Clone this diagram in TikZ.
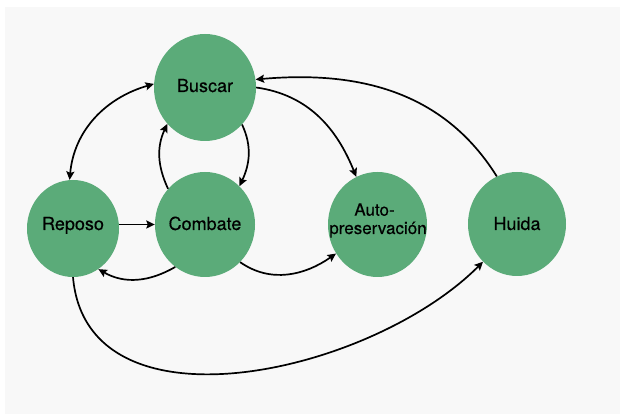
\documentclass[tikz,border=0pt]{standalone}
\usepackage{fontspec}
\setmainfont{TeX Gyre Heros}
\newfontfamily\statefont{TeX Gyre Heros}[FakeBold=0.3]
\usetikzlibrary{shapes.geometric,arrows.meta}
\definecolor{stategreen}{HTML}{5BAB79}
\definecolor{panelgray}{HTML}{F8F8F8}
\tikzset{
  state/.style={ellipse, fill=stategreen, draw=none, inner sep=0pt},
  statetext/.style={anchor=base, inner sep=0pt, font=\statefont\fontsize{18}{22}\selectfont},
  smalltext/.style={anchor=base, inner sep=0pt, font=\statefont\fontsize{17}{20}\selectfont},
  link/.style={line width=1.7pt, -{Stealth[length=8.5pt,width=8pt,inset=1.5pt]}},
  biglink/.style={line width=1.7pt, {Stealth[length=8.5pt,width=8pt,inset=1.5pt]}-{Stealth[length=8.5pt,width=8pt,inset=1.5pt]}}
}
\begin{document}
\begin{tikzpicture}[x=1pt,y=1pt]
  % page and light panel
  \fill[white] (0,0) rectangle (620,419);
  \fill[panelgray] (5,5) rectangle (620,412);
  \useasboundingbox (0,0) rectangle (620,419);

  % states
  \node[state, minimum width=102pt, minimum height=107pt] (bus) at (205,331.5) {};
  \node[state, minimum width=92pt,  minimum height=97pt]  (rep) at (73,190.5) {};
  \node[state, minimum width=100pt, minimum height=105pt] (com) at (205,194.5) {};
  \node[state, minimum width=99pt,  minimum height=105pt] (aut) at (377.5,194.5) {};
  \node[state, minimum width=98pt,  minimum height=104pt] (hui) at (517,195) {};

  % labels
  \node[statetext] (bus-t) at (205,327) {Buscar};
  \node[statetext] (rep-t) at (73,189) {Reposo};
  \node[statetext] (com-t) at (205,189) {Combate};
  \node[statetext] (hui-t) at (517,189) {Huida};
  \node[smalltext] (aut-t1) at (374.5,203.3) {Auto-};
  \node[smalltext] (aut-t2) at (378,185) {preservación};

  % transitions
  \draw[biglink] (rep.94) to[out=85, in=196] (bus.176);
  \draw[link] (bus.-45) to[out=-65, in=65] (com.48);
  \draw[link] (com.136) to[out=115, in=-115] (bus.-136);
  \draw[link] (rep.east |- com.west) -- (com.west);
  \draw[link] (com.-125) to[out=-150, in=-30] (rep.-58);
  \draw[link] (com.-47) to[out=-35, in=-145] (aut.-145);
  \draw[link] (bus.east) to[out=-8, in=112] (aut.114);
  \draw[link] (hui.113) to[out=122, in=5] (bus.9);
  \draw[link] (rep.-90) to[out=-85, in=-135] (hui.-132);
\end{tikzpicture}
\end{document}
